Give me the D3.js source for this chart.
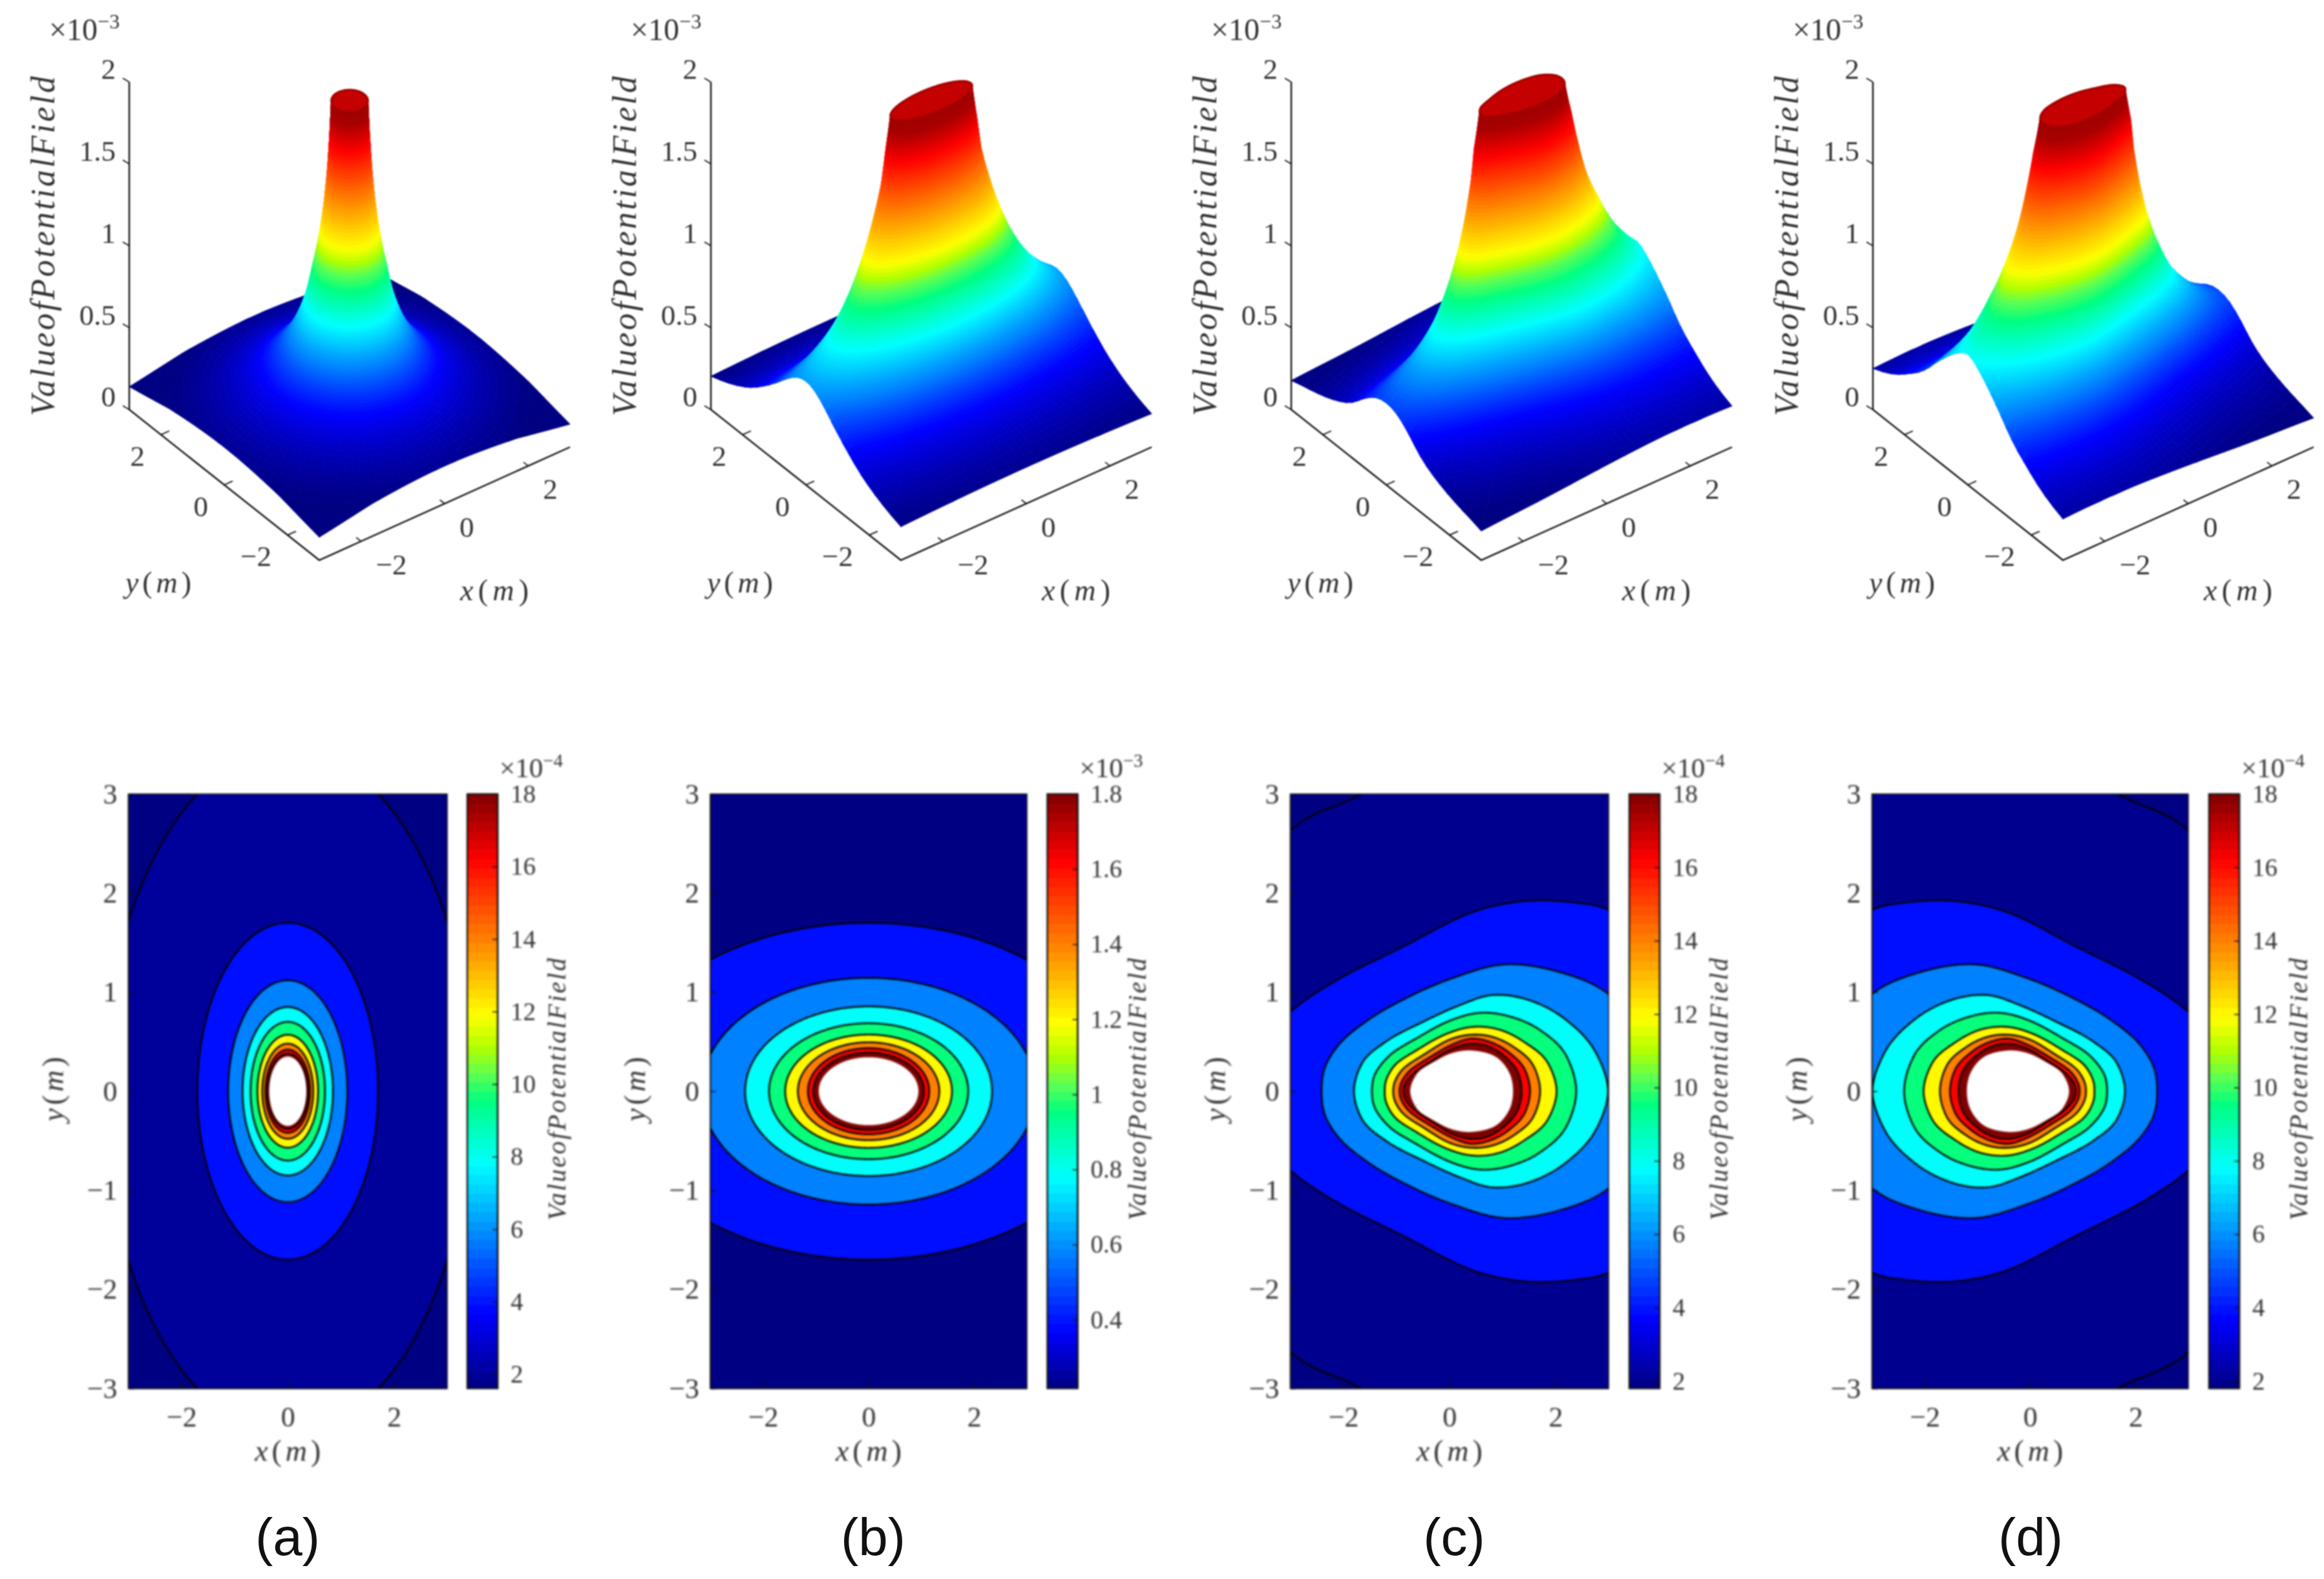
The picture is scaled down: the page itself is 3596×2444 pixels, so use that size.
<!DOCTYPE html>
<html><head><meta charset="utf-8">
<script src="https://cdnjs.cloudflare.com/ajax/libs/d3/7.8.5/d3.min.js"></script>
<style>
html,body{margin:0;padding:0;background:#fff}
svg{display:block}
text{font-family:"Liberation Serif","Times New Roman",serif;fill:#333}
.blurTop{filter:blur(1.1px)}
.blurBottom{filter:blur(1.4px)}
</style></head><body>
<svg id="chart" width="3596" height="2444"></svg>
<script>
// ---------- values ----------
const panelNames = ["(a)", "(b)", "(c)", "(d)"];
const colorbarExponent = ["\u22124", "\u22123", "\u22124", "\u22124"];
const surfaceExponent = "\u22123";
const surfaceLabel = "ValueofPotentialField";
// contour levels in units of 1e-4; 1 is only reached outside the plotted square, 20 is the white hole
const ringLevels = [1, 2, 4, 6, 8, 10, 12, 14, 16, 18, 20];
// the ramp value whose colour fills the band inside each contour
const ringFillLevels = [1, 2, 3.9, 5.75, 7.85, 9.6, 12, 14, 16.2, 18, 20];
// panel (a): circular contours, radius in metres for each level
const ringRadiusA = [5, 3.45, 1.7, 1.12, 0.85, 0.7, 0.57, 0.48, 0.42, 0.38, 0.35];
// panel (b): elliptical contours, semi axes in metres for each level
const ringRxB = [12, 8, 4.8, 3.17, 2.34, 1.887, 1.58, 1.34, 1.15, 1.05, 0.945];
const ringRyB = [5, 3.3, 1.7, 1.144, 0.856, 0.686, 0.572, 0.494, 0.435, 0.39, 0.343];
// panel (c): upper half of each contour, right to left, as [x, y] in metres (lower half mirrors it)
const ringsC = [
  [[12,0],[9,5],[3,7],[-1,6.5],[-4.5,4.5],[-7,2.5],[-8,0]],
  [[7,0],[6,2.4],[4,3.6],[2,3.9],[0,3.55],[-1.66,3],[-3,2.63],[-4.2,1.7],[-4.6,0]],
  [[5.1,0],[4.9,.7],[4.2,1.4],[3,1.83],[2.43,1.9],[1.44,1.92],[.45,1.81],[-.87,1.46],[-2.19,1.1],[-3,.8],[-3.7,.4],[-3.9,0]],
  [[3.8,0],[3.6,.6],[3,.98],[2.16,1.19],[1.04,1.28],[.05,1.14],[-.74,.96],[-1.53,.72],[-2.1,.46],[-2.36,.22],[-2.41,0]],
  [[2.99,0],[2.75,.4],[2.2,.72],[1.5,.92],[.8,.97],[.2,.87],[-.5,.7],[-1.2,.5],[-1.65,.28],[-1.8,0]],
  [[2.39,0],[2.2,.36],[1.7,.62],[1.1,.76],[.55,.79],[0,.71],[-.6,.54],[-1.15,.35],[-1.42,.15],[-1.46,0]],
  [[2.02,0],[1.85,.29],[1.4,.5],[.95,.62],[.45,.65],[-.05,.58],[-.6,.42],[-1.05,.25],[-1.2,.1],[-1.22,0]],
  [[1.71,0],[1.58,.26],[1.2,.45],[.8,.55],[.4,.57],[0,.52],[-.45,.38],[-.9,.21],[-1.04,.08],[-1.06,0]],
  [[1.52,0],[1.42,.22],[1.1,.4],[.75,.5],[.4,.53],[.05,.47],[-.35,.35],[-.78,.19],[-.92,.07],[-.94,0]],
  [[1.36,0],[1.28,.2],[1,.37],[.7,.46],[.4,.48],[.05,.43],[-.3,.32],[-.7,.17],[-.85,.06],[-.87,0]],
  [[1.2,0],[1.15,.16],[.92,.33],[.45,.41],[.05,.385],[-.28,.3],[-.62,.17],[-.74,0]]
];
const ringCentreX = [0, 0, 0.3, -0.3];
// lowest value of each colour bar, units of 1e-4
const colorbarMin = [1.61, 2.17, 1.8, 1.8];
const firstDrawnLevel = [2, 4, 2, 2];
const axisTicks2D = [-2, 0, 2];
const yTicks2D = [-3, -2, -1, 0, 1, 2, 3];
const surfaceXYTicks = [-2, 0, 2];
const surfaceZTicks = [0, 0.5, 1, 1.5, 2];
const colorbarTicks = [2, 4, 6, 8, 10, 12, 14, 16, 18];
const colorbarTicksB = [0.4, 0.6, 0.8, 1, 1.2, 1.4, 1.6, 1.8];
// colour ramp, level units of 1e-4 (first stop is the bar's minimum)
const rampStops = [3.67, 5.73, 7.8, 9.55, 10.3, 11, 11.9, 14, 16.2, 18];
const rampColors = ["#000082", "#0000ff", "#0080ff", "#00ffff", "#00ff80", "#60ff50", "#b0ff00", "#ffff00", "#ff8000", "#ff0000", "#800000"];
// same ramp on the 3D surfaces, z in units of 1e-3
const surfaceStops = [0.2, 0.4, 0.58, 0.78, 0.97, 1.06, 1.12, 1.2, 1.48, 1.76, 1.92, 2];
const surfaceColors = ["#000082", "#0000ff", "#0080ff", "#00ffff", "#00ff80", "#60ff50", "#b0ff00", "#ffff00", "#ff8000", "#ff0000", "#a80000", "#a00000"];
const capColor = "#c40000";

// ---------- layout ----------
const W = 3596, H = 2444;
const panelOffset = [0, 900, 1798, 2698];
const plotLeft = [198.5, 1099, 1996.5, 2896.5];
const plotRight = [692, 1589, 2489, 3386];
const plotTop = 1229, plotBottom = 2149;
const barLeft = [723, 1620.5, 2521, 3418], barWidth = 47;
const captionX = [445, 1351, 2250, 3142];

const svg = d3.select("#chart");
svg.append("rect").attr("width", W).attr("height", H).attr("fill", "#fff");

// ---------- polar contour model ----------
const RAD = Math.PI / 180;
function ringPath(pts) {
  const closed = pts.concat(pts.slice(1, -1).reverse().map(p => [p[0], -p[1]]));
  const p = document.createElementNS("http://www.w3.org/2000/svg", "path");
  p.setAttribute("d", d3.line().curve(d3.curveCatmullRomClosed)(closed.map(q => [q[0] * 100, q[1] * 100])));
  return p;
}
function buildTableC(cx) {
  return ringsC.map(ring => {
    const p = ringPath(ring), L = p.getTotalLength(), s = [];
    for (let i = 0; i < 3000; i++) {
      const q = p.getPointAtLength(L * i / 3000);
      const x = q.x / 100 - cx, y = q.y / 100;
      s.push([Math.atan2(y, x), Math.hypot(x, y)]);
    }
    s.sort((a, b) => a[0] - b[0]);
    return s;
  });
}
const tableC = buildTableC(ringCentreX[2]);
const bis = d3.bisector(d => d[0]).left;
function tableR(i, th) {
  const t = tableC[i];
  let a = Math.atan2(Math.sin(th), Math.cos(th));
  let k = bis(t, a);
  const p0 = t[(k - 1 + t.length) % t.length], p1 = t[k % t.length];
  let d = p1[0] - p0[0]; if (d <= 0) d += 2 * Math.PI;
  let f = a - p0[0]; if (f < 0) f += 2 * Math.PI;
  return p0[1] + (p1[1] - p0[1]) * (f / d);
}
const radiusFns = [
  (i) => ringRadiusA[i],
  (i, th) => 1 / Math.hypot(Math.cos(th) / ringRxB[i], Math.sin(th) / ringRyB[i]),
  (i, th) => tableR(i, th),
  (i, th) => tableR(i, Math.PI - th)
];
const nRings = ringLevels.length;

function zAtRadius(pi, r, th) {
  const R = radiusFns[pi];
  let k = 0;
  while (k < nRings - 2 && R(k + 1, th) >= r) k++;
  const a = 1 / R(k, th), b = 1 / R(k + 1, th);
  const f = (1 / r - a) / (b - a);
  return (ringLevels[k] + (ringLevels[k + 1] - ringLevels[k]) * f) / 10;
}

// ---------- 3D projection through linear scales ----------
const scrXx = d3.scaleLinear([-3, 3], [0, 388]), scrXy = d3.scaleLinear([-3, 3], [0, -175]);
const scrYx = d3.scaleLinear([-3, 3], [0, -294]), scrYy = d3.scaleLinear([-3, 3], [0, -233]);
const scrZ = d3.scaleLinear([0, 2], [0, -507]);
const originX = 494, originY = 867;
const project = (x, y, z) => [originX + scrXx(x) + scrYx(y), originY + scrXy(x) + scrYy(y) + scrZ(z)];
const surfaceColor = d3.scaleLinear().domain(surfaceStops).range(surfaceColors).clamp(true);
const quadLine = d3.line();

function drawSurface(g, pi) {
  const cx = ringCentreX[pi], R = radiusFns[pi];
  const edge = th => {
    const c = Math.cos(th), s = Math.sin(th);
    const rx = c > 1e-9 ? (3 - cx) / c : c < -1e-9 ? (-3 - cx) / c : Infinity;
    const ry = Math.abs(s) > 1e-9 ? 3 / Math.abs(s) : Infinity;
    return Math.min(rx, ry);
  };
  let thetas = d3.range(0, 360, 3).map(d => d * RAD);
  [[3, 3], [-3, 3], [-3, -3], [3, -3]].forEach(c => {
    let t = Math.atan2(c[1], c[0] - cx); if (t < 0) t += 2 * Math.PI; thetas.push(t);
  });
  thetas.sort((a, b) => a - b);
  // radial subdivision between neighbouring contours, purely to shade the surface
  const subs = [];
  for (let k = 0; k < nRings - 1; k++) {
    const n = k === 0 ? 4 : k < 5 ? 14 : 9;
    for (let j = 0; j < n; j++) subs.push([k, j / n]);
  }
  subs.push([nRings - 2, 1]);
  const grid = thetas.map(th => {
    const re = edge(th);
    return subs.map(([k, f]) => {
      const a = 1 / R(k, th), b = 1 / R(k + 1, th);
      const r0 = 1 / (a + (b - a) * f);
      const r = Math.min(r0, re);
      const z = r0 > re ? zAtRadius(pi, re, th) : (ringLevels[k] + (ringLevels[k + 1] - ringLevels[k]) * f) / 10;
      return { x: cx + r * Math.cos(th), y: r * Math.sin(th), z, clipped: r0 >= re };
    });
  });
  const quads = [];
  for (let i = 0; i < thetas.length; i++) {
    const A = grid[i], B = grid[(i + 1) % thetas.length];
    for (let s = 0; s < subs.length - 1; s++) {
      if (A[s + 1].clipped && B[s + 1].clipped) continue;
      const v = [A[s], B[s], B[s + 1], A[s + 1]];
      const mz = d3.mean(v, d => d.z), mx = d3.mean(v, d => d.x), my = d3.mean(v, d => d.y);
      quads.push({ pts: v.map(d => project(d.x, d.y, d.z)), z: mz, depth: 0.604 * mx + 0.797 * my });
    }
  }
  quads.sort((a, b) => d3.descending(a.depth, b.depth));
  g.append("g").selectAll("path").data(quads).join("path")
    .attr("d", d => quadLine(d.pts) + "Z")
    .attr("fill", d => surfaceColor(d.z))
    .attr("stroke", d => surfaceColor(d.z))
    .attr("stroke-width", 0.9)
    .attr("stroke-linejoin", "round");
  // flat top of the tower
  const capPts = d3.range(0, 360, 2).map(d => {
    const th = d * RAD, r = R(nRings - 1, th);
    return project(cx + r * Math.cos(th), r * Math.sin(th), 2);
  });
  g.append("path").attr("d", quadLine(capPts) + "Z").attr("fill", capColor)
    .attr("stroke", "#a00000").attr("stroke-width", 3);
}

function sup(textSel, base, exp, size, supSize) {
  textSel.attr("font-size", size);
  textSel.append("tspan").text(base);
  textSel.append("tspan").attr("font-size", supSize).attr("dy", -size * 0.38).text(exp);
}

function mathLabel(g, x, y, rot, letter, len, size) {
  const t = g.append("text").attr("transform", `translate(${x},${y}) rotate(${rot})`)
    .attr("text-anchor", "middle").attr("dominant-baseline", "middle")
    .attr("font-size", size).attr("textLength", len).attr("lengthAdjust", "spacing");
  t.append("tspan").attr("font-style", "italic").text(letter);
  t.append("tspan").text("(");
  t.append("tspan").attr("font-style", "italic").text("m");
  t.append("tspan").text(")");
}

function drawTop(pi) {
  const g = svg.append("g").attr("class", "blurTop").attr("transform", `translate(${panelOffset[pi]},0)`);
  const [zx, zy0] = project(-3, 3, 0), [, zy2] = project(-3, 3, 2);
  const corner = project(-3, -3, 0), right = project(3, -3, 0);
  const axisLine = g.append("g").attr("stroke", "#111").attr("stroke-width", 2.4).attr("fill", "none");
  axisLine.append("path").attr("d", quadLine([[zx, zy2], [zx, zy0], corner, right]));
  // ticks
  surfaceZTicks.forEach(v => {
    const [px, py] = project(-3, 3, v);
    axisLine.append("line").attr("x1", px).attr("y1", py).attr("x2", px - 10).attr("y2", py - 6).attr("stroke-width", 1.8);
    g.append("text").attr("x", 179).attr("y", py - 15).attr("text-anchor", "end")
      .attr("dominant-baseline", "middle").attr("font-size", 45).text(v);
  });
  surfaceXYTicks.forEach(v => {
    const [px, py] = project(-3, v, 0);
    const q = project(-2.8, v, 0);
    axisLine.append("line").attr("x1", px).attr("y1", py).attr("x2", q[0]).attr("y2", q[1]).attr("stroke-width", 1.8);
    g.append("text").attr("x", px - 25).attr("y", py + 38).attr("text-anchor", "end")
      .attr("dominant-baseline", "middle").attr("font-size", 45).text(d3.format("d")(v));
    const [ax, ay] = project(v, -3, 0);
    const b = project(v, -2.85, 0);
    axisLine.append("line").attr("x1", ax).attr("y1", ay).attr("x2", b[0]).attr("y2", b[1]).attr("stroke-width", 1.8);
    g.append("text").attr("x", ax + 23).attr("y", ay + 41).attr("text-anchor", "start")
      .attr("dominant-baseline", "middle").attr("font-size", 45).text(d3.format("d")(v));
  });
  drawSurface(g, pi);
  const exp = g.append("text").attr("x", 76).attr("y", 62);
  sup(exp, "\u00d710", surfaceExponent, 48, 32);
  g.append("text").attr("transform", "translate(72,381) rotate(-90)").attr("text-anchor", "middle")
    .attr("dominant-baseline", "middle").attr("font-size", 52).attr("font-style", "italic")
    .attr("textLength", 526).attr("lengthAdjust", "spacing").text(surfaceLabel);
  mathLabel(g, 245, 906, 0, "y", 102, 46);
  mathLabel(g, 765, 918, 0, "x", 106, 46);
}

function drawBottom(pi) {
  const g = svg.append("g").attr("class", "blurBottom");
  const x = d3.scaleLinear([-3, 3], [plotLeft[pi], plotRight[pi]]);
  const y = d3.scaleLinear([-3, 3], [plotBottom, plotTop]);
  const cmin = colorbarMin[pi];
  const color = d3.scaleLinear().domain([cmin].concat(rampStops)).range(rampColors).clamp(true);
  const cid = "clip" + pi;
  g.append("clipPath").attr("id", cid).append("rect")
    .attr("x", plotLeft[pi]).attr("y", plotTop).attr("width", plotRight[pi] - plotLeft[pi]).attr("height", plotBottom - plotTop);
  const plot = g.append("g").attr("clip-path", `url(#${cid})`);
  plot.append("rect").attr("x", plotLeft[pi]).attr("y", plotTop)
    .attr("width", plotRight[pi] - plotLeft[pi]).attr("height", plotBottom - plotTop).attr("fill", color(cmin));
  const cx = ringCentreX[pi], R = radiusFns[pi];
  const line = d3.line().x(d => x(d[0])).y(d => y(d[1]));
  const ringPts = i => d3.range(0, 360, 1).map(deg => {
    const th = deg * RAD, r = R(i, th);
    return [cx + r * Math.cos(th), r * Math.sin(th)];
  });
  const drawn = d3.range(nRings).filter(i => ringLevels[i] >= firstDrawnLevel[pi]);
  plot.selectAll("path.ring").data(drawn).join("path").attr("class", "ring")
    .attr("d", i => line(ringPts(i)) + "Z")
    .attr("fill", i => ringLevels[i] === 20 ? "#fff" : color(ringFillLevels[i]))
    .attr("stroke", i => ringLevels[i] === 20 ? "none" : "#000")
    .attr("stroke-width", 2.6);
  // axes
  const fmt = d3.format("d");
  const xAxis = d3.axisBottom(x).tickValues(axisTicks2D).tickFormat(fmt).tickSizeInner(-9).tickSizeOuter(0).tickPadding(28);
  const yAxis = d3.axisLeft(y).tickValues(yTicks2D).tickFormat(fmt).tickSizeInner(-9).tickSizeOuter(0).tickPadding(17);
  const gx = g.append("g").attr("transform", `translate(0,${plotBottom})`).call(xAxis);
  const gy = g.append("g").attr("transform", `translate(${plotLeft[pi]},0)`).call(yAxis);
  [gx, gy].forEach(a => {
    a.selectAll("text").attr("font-size", 44).attr("font-family", '"Liberation Serif",serif').attr("fill", "#333");
    a.selectAll("line,path").attr("stroke", "#111").attr("stroke-width", 1.6);
  });
  g.append("rect").attr("x", plotLeft[pi]).attr("y", plotTop).attr("width", plotRight[pi] - plotLeft[pi])
    .attr("height", plotBottom - plotTop).attr("fill", "none").attr("stroke", "#111").attr("stroke-width", 1.6);
  mathLabel(g, (plotLeft[pi] + plotRight[pi]) / 2, 2250, 0, "x", 102, 46);
  mathLabel(g, plotLeft[pi] - 112, 1686, -90, "y", 100, 46);

  // colour bar
  const bx = barLeft[pi];
  const by = d3.scaleLinear([cmin, 18], [plotBottom, plotTop]);
  const steps = d3.range(64).map(i => cmin + (18 - cmin) * i / 64);
  g.append("g").selectAll("rect").data(steps).join("rect")
    .attr("x", bx).attr("width", barWidth)
    .attr("y", d => by(d + (18 - cmin) / 64))
    .attr("height", (plotBottom - plotTop) / 64 + 0.6)
    .attr("fill", d => color(d + (18 - cmin) / 128));
  const isB = pi === 1;
  const barTicks = isB ? colorbarTicksB.map(d => d * 10) : colorbarTicks;
  const barAxis = d3.axisRight(by).tickValues(barTicks).tickSizeInner(-8).tickSizeOuter(0).tickPadding(20)
    .tickFormat(d => isB ? d3.format(".1~f")(d / 10) : d);
  const gb = g.append("g").attr("transform", `translate(${bx + barWidth},0)`).call(barAxis);
  gb.selectAll("text").attr("font-size", 39).attr("font-family", '"Liberation Serif",serif').attr("fill", "#333");
  gb.selectAll("line,path").attr("stroke", "#111").attr("stroke-width", 1.6);
  g.append("rect").attr("x", bx).attr("y", plotTop).attr("width", barWidth).attr("height", plotBottom - plotTop)
    .attr("fill", "none").attr("stroke", "#111").attr("stroke-width", 2.4);
  const e = g.append("text").attr("x", bx + 50).attr("y", 1203);
  sup(e, "\u00d710", colorbarExponent[pi], 43, 29);
  g.append("text").attr("transform", `translate(${bx + 143},1686) rotate(-90)`).attr("text-anchor", "middle")
    .attr("dominant-baseline", "middle").attr("font-size", 40).attr("font-style", "italic")
    .attr("textLength", 406).attr("lengthAdjust", "spacing").text(surfaceLabel);
}

d3.range(4).forEach(drawTop);
d3.range(4).forEach(drawBottom);

// panel captions
svg.append("g").selectAll("text").data(panelNames).join("text")
  .attr("x", (d, i) => captionX[i]).attr("y", 2385)
  .attr("text-anchor", "middle").attr("dominant-baseline", "middle")
  .attr("font-size", 82).style("font-family", '"Liberation Sans",sans-serif').style("fill", "#111").text(d => d);
</script>
</body></html>
